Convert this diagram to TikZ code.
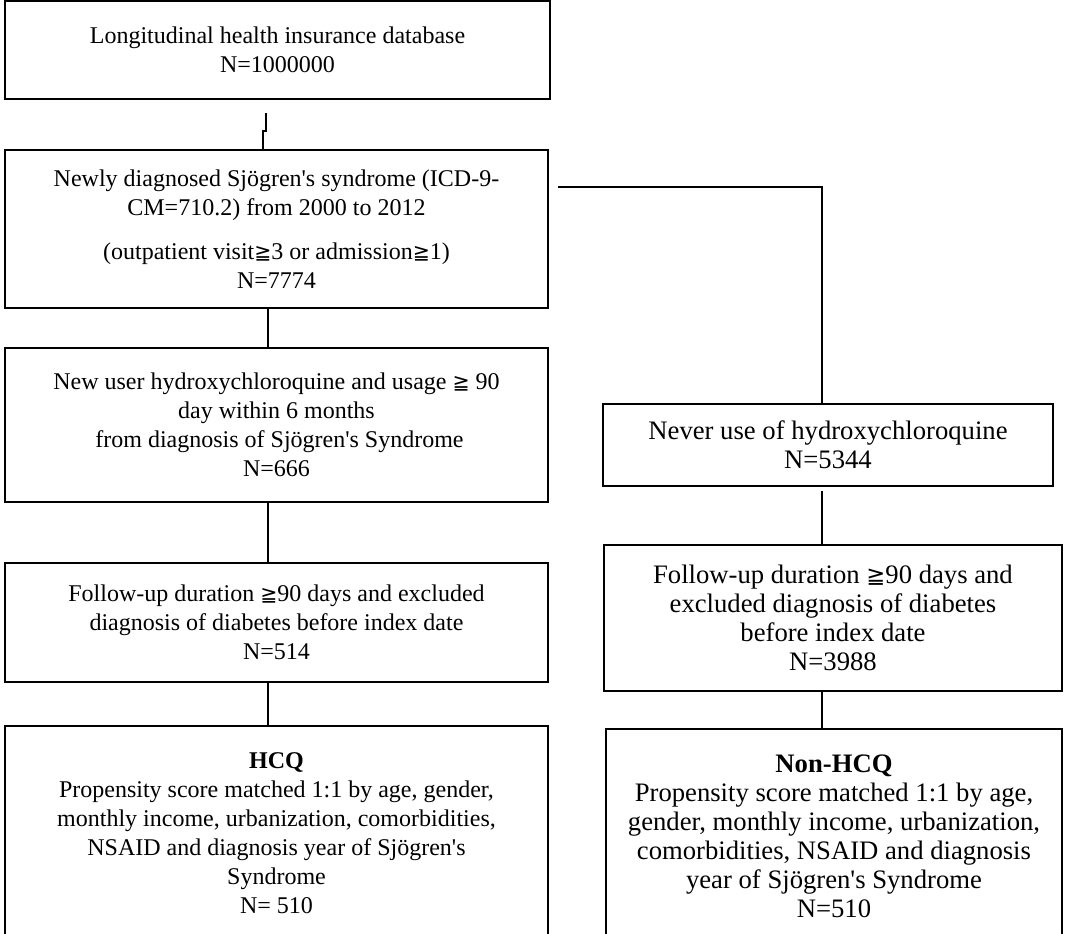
\documentclass[tikz,border=0pt]{standalone}
\usepackage{fontspec}
\setmainfont{Liberation Serif}
\newfontfamily\symfont[Scale=0.85]{DejaVu Sans}
\newcommand{\geqsym}{{\symfont\char"2267}}
\newcommand{\apos}{\textquotesingle}

\tikzset{
  box/.style 2 args={draw, line width=1.5pt, inner sep=0pt, align=center,
    minimum width=#1*0.75pt, minimum height=#2*0.75pt,
    font=\fontsize{18}{21.75}\selectfont},
  rbox/.style 2 args={box={#1}{#2}, font=\fontsize{20}{21.75}\selectfont},
  link/.style={line width=1.5pt}
}

\begin{document}
\begin{tikzpicture}[x=0.75pt,y=-0.75pt]
\useasboundingbox (0,0) rectangle (1065,934);

% left column
\node[box={545}{98}] (DB) at (277.5,50) {Longitudinal health insurance database\\N=1000000};
\node[box={543}{158}] (SS) at (276.5,229) {Newly diagnosed Sj\"ogren\apos s syndrome (ICD-9-\\CM=710.2) from 2000 to 2012\\[11pt](outpatient visit\geqsym3 or admission\geqsym1)\\N=7774};
\node[box={543}{154}] (USE) at (276.5,425) {New user hydroxychloroquine and usage \geqsym{} 90\\day within 6 months\\\ from diagnosis of Sj\"ogren\apos s Syndrome\\N=666};
\node[box={543}{119}] (FU) at (276.5,622.5) {Follow-up duration \geqsym90 days and excluded\\diagnosis of diabetes before index date\\N=514};
\node[box={543}{214}] (HCQ) at (276.5,833) {\textbf{HCQ}\\Propensity score matched 1:1 by age, gender,\\monthly income, urbanization, comorbidities,\\NSAID and diagnosis year of Sj\"ogren\apos s\\Syndrome\\N= 510};

% right column
\node[rbox={450}{82}] (NEVER) at (828,445) {Never use of hydroxychloroquine\\N=5344};
\node[rbox={458}{146}] (FUR) at (833,618) {Follow-up duration \geqsym90 days and\\excluded diagnosis of diabetes\\before index date\\N=3988};
\node[rbox={456}{214}] (NON) at (834,836) {\textbf{Non-HCQ}\\Propensity score matched 1:1 by age,\\gender, monthly income, urbanization,\\comorbidities, NSAID and diagnosis\\year of Sj\"ogren\apos s Syndrome\\N=510};

\coordinate (lx) at (268,0);
\coordinate (rx) at (822,0);
\coordinate (j1) at (266,113);
\coordinate (j2) at (263,131);
\coordinate (s1) at (558,187);

\draw[link] (j1) |- (j2) -- (SS.north -| j2);
\draw[link] (s1) -| (NEVER.north -| rx);
\draw[link] (SS.south -| lx) -- (USE.north -| lx);
\draw[link] (USE.south -| lx) -- (FU.north -| lx);
\draw[link] (FU.south -| lx) -- (HCQ.north -| lx);
\draw[link] ([yshift=-3pt]NEVER.south -| rx) -- (FUR.north -| rx);
\draw[link] (FUR.south -| rx) -- (NON.north -| rx);
\end{tikzpicture}
\end{document}
